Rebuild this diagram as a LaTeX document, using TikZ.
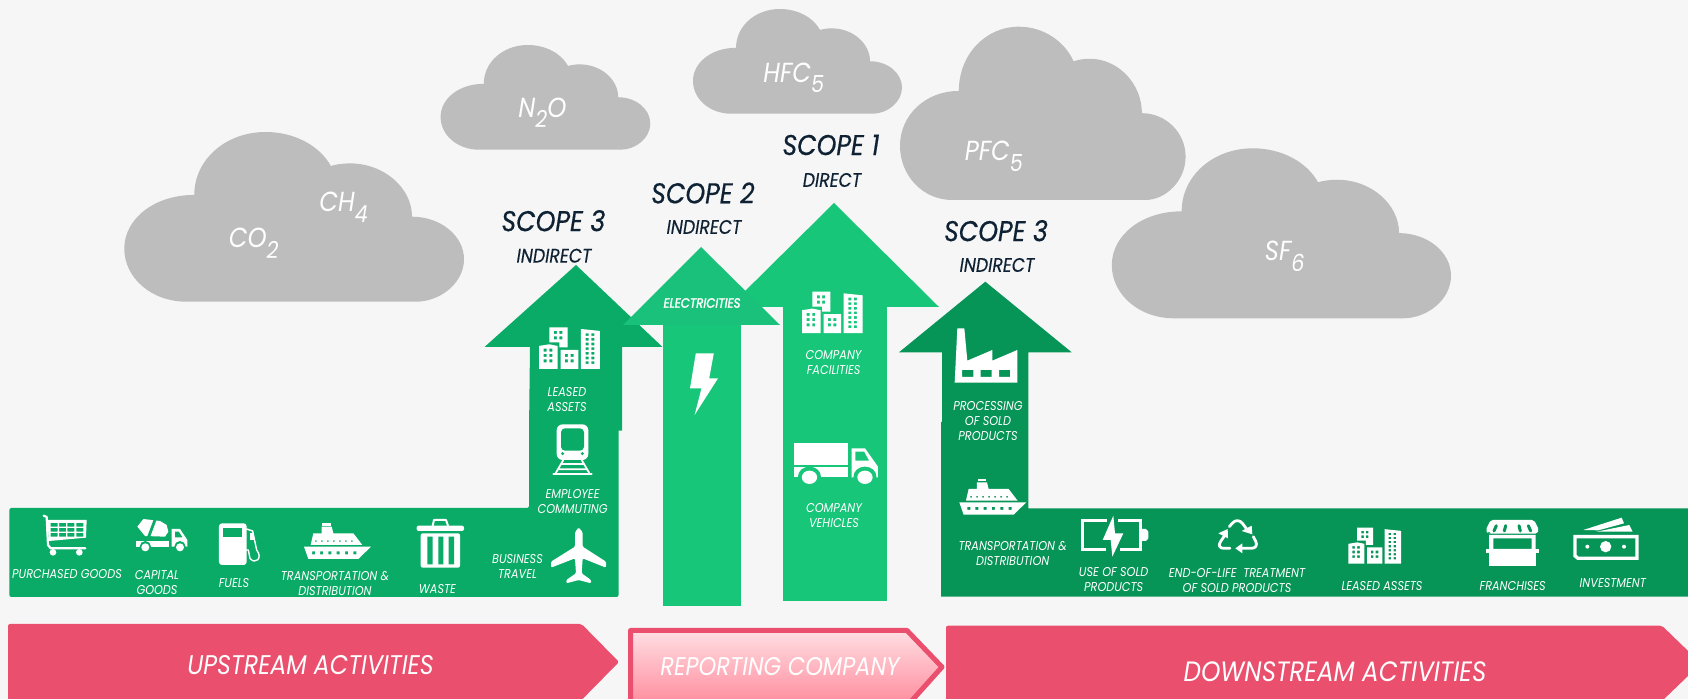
\documentclass[tikz,border=0pt]{standalone}
\usepackage{fontspec}
\usepackage{graphicx}
\setmainfont{Poppins}[FakeStretch=0.88]
\definecolor{bgc}{HTML}{F6F6F6}
\definecolor{cloudc}{HTML}{BDBDBD}
\definecolor{sthree}{HTML}{0AAB66}
\definecolor{sdown}{HTML}{069457}
\definecolor{sone}{HTML}{18C67A}
\definecolor{stwohead}{HTML}{1AC17A}
\definecolor{redc}{HTML}{EB4F6E}
\definecolor{navy}{HTML}{0F2233}
\definecolor{reptop}{HTML}{FFDFE3}
\definecolor{repbot}{HTML}{FF8A9C}
\tikzset{
  lbl/.style={text=white,inner sep=0pt,align=center,font=\fontsize{6.4}{7.5}\selectfont\itshape},
  heads/.style={text=navy,inner sep=0pt,align=center,font=\fontsize{14.3}{16}\selectfont\itshape\addfontfeature{FakeBold=0.5}},
  subh/.style={text=navy,inner sep=0pt,align=center,font=\fontsize{9.8}{11}\selectfont\itshape\addfontfeature{FakeBold=0.3}},
  bar/.style={text=white,inner sep=0pt,align=center,font=\fontsize{13.5}{15}\selectfont\itshape},
  gas/.style={text=white,inner sep=0pt,anchor=base west,font=\fontsize{13.8}{16}\selectfont\itshape},
  zu/.style={scale=1/3},
  icon/.style={fill=white,even odd rule,draw=none},
  stroke/.style={draw=white,fill=none,line cap=round,line join=round}
}
\newcommand\sbsc[1]{\raisebox{-0.7ex}{\scalebox{.85}{#1}}}
\newcommand\cloudshape[4]{\fill[cloudc,shift={(#1,#2)},xscale=#3-#1,yscale=#4-#2]
 (.183,1) .. controls (.08,1) and (0,.86) .. (0,.687)
 .. controls (0,.51) and (.09,.37) .. (.206,.371)
 .. controls (.206,.16) and (.30,0) .. (.416,0)
 .. controls (.50,0) and (.575,.08) .. (.608,.2)
 .. controls (.625,.19) and (.645,.185) .. (.664,.185)
 .. controls (.765,.185) and (.847,.33) .. (.847,.499)
 .. controls (.93,.499) and (1,.61) .. (1,.75)
 .. controls (1,.89) and (.93,1) .. (.859,1) -- cycle;}
% building: bbox top-left at (#1,#2), scale #3
\newcommand\bldg[3]{\begin{scope}[shift={(#1,#2)},scale=#3,shift={(-27,-52)}]
 \fill[icon] (58,52) -- (113,52) -- (113,112) -- (88,112) -- (88,97) -- (58,97) -- cycle
   foreach \x in {72,88} { foreach \y in {63,79} {(\x,\y) rectangle ++(9,9)} };
 \fill[icon] (27,177) -- (27,108) -- (58,103) -- (83,108) -- (83,177) -- (58,177) -- (58,177) -- cycle
   foreach \x in {41,58} { foreach \y in {116,132,148} {(\x,\y) rectangle ++(9,9)} };
 \fill[icon] (92,177) -- (92,120) -- (145,120) -- (145,177) -- cycle
   foreach \x in {105,122} { foreach \y in {132,148} {(\x,\y) rectangle ++(9,9)} };
 \fill[icon] (153,177) -- (153,57) -- (210,63) -- (210,177) -- cycle
   foreach \x in {167,184} { foreach \y in {70,84,98,112,126,140,154} {(\x,\y) rectangle ++(9,8)} };
\end{scope}}
% ship: bbox top-left at (#1,#2)
\newcommand\shipicon[2]{\begin{scope}[shift={(#1,#2)},zu,shift={(-42,-55)}]
 \fill[icon] (42,125) -- (243,125) -- (205,162) -- (55,162) -- cycle
   foreach \x in {66,90,115,140,165,190} {(\x,139) rectangle ++(9,9)};
 \fill[icon] (62,120) -- (70,85) -- (95,85) -- (95,65) -- (125,65) -- (130,85) -- (190,85) -- (217,120) -- cycle
   foreach \x in {75,93,111,129,147,165,183} {(\x,106) rectangle ++(5,5)};
 \fill[white] (97,55) rectangle (122,62);
\end{scope}}
\begin{document}
\begin{tikzpicture}[x=0.5pt,y=-0.5pt]
\useasboundingbox (0,0) rectangle (1688,699);
\clip (0,0) rectangle (1688,699);
\fill[bgc] (0,0) rectangle (1688,699);
% clouds
\cloudshape{124.3}{132}{464}{301.7}
\cloudshape{440.6}{45}{650.3}{149.7}
\cloudshape{693}{9}{902}{113.7}
\cloudshape{900}{26.7}{1185.6}{200}
\cloudshape{1111.8}{148.3}{1451}{318.3}
\node[gas] (co2) at (228.4,248) {CO\sbsc{2}};
\node[gas] (ch4) at (319,211.7) {CH\sbsc{4}};
\node[gas] (n2o) at (518,117.3) {N\sbsc{2}O};
\node[gas] (hfc) at (763,82.3) {HFC\sbsc{5}};
\node[gas] (pfc) at (964.5,160.7) {PFC\sbsc{5}};
\node[gas] (sf6) at (1264.5,260.7) {SF\sbsc{6}};
% scope 3 left arrow and upstream band
\fill[sthree] (576,265) -- (662.5,347) -- (622,347) -- (622,430.7) -- (529,430.7) -- (530,347) -- (484.5,347) -- cycle;
\fill[sthree,rounded corners=1pt] (529,420) -- (618.5,420) -- (618.5,597) -- (9.4,597) -- (9.4,508) -- (529,508) -- cycle;
% scope 1 arrow
\fill[sone] (834,203) -- (939,307) -- (886.8,307) -- (886.8,601) -- (783,601) -- (783,307) -- (729,307) -- cycle;
% scope 2 arrow
\fill[sone] (662.6,320) rectangle (740.6,606);
\fill[stwohead] (701,247) -- (780,325) -- (623,325) -- cycle;
% scope 3 right arrow and downstream band
\fill[sdown] (985.3,281.7) -- (1071.7,352.3) -- (1028.3,352.3) -- (1028.3,508.3) -- (1688,508.3) -- (1688,596.7) -- (941,596.7) -- (941,422) -- (942,422) -- (942,352.3) -- (899,352.3) -- cycle;
% red arrows
\fill[redc,rounded corners=1pt] (8,624) -- (581.6,624) -- (619,662) -- (581.6,700) -- (8,700) -- cycle;
\shade[top color=reptop,bottom color=repbot,draw=redc,line width=2.5pt,line join=round] (630.5,630.5) -- (907,630.5) -- (942,667) -- (907,706) -- (630.5,706) -- cycle;
\fill[redc,rounded corners=1pt] (946,625.7) -- (1662,625.7) -- (1701,663.5) -- (1662,701) -- (946,701) -- cycle;
% scope titles
\node[heads] (t3l) at (553.4,220.7) {SCOPE 3};
\node[subh] (i3l) at (554,255.7) {INDIRECT};
\node[heads] (t2) at (703,193) {SCOPE 2};
\node[subh] (i2) at (704,227) {INDIRECT};
\node[heads] (t1) at (831,145) {SCOPE 1};
\node[subh] (i1) at (832,180) {DIRECT};
\node[heads] (t3r) at (996,230.7) {SCOPE 3};
\node[subh] (i3r) at (997,265) {INDIRECT};
% bar labels
\node[bar] (up) at (310.5,665) {UPSTREAM ACTIVITIES};
\node[bar,font=\fontsize{12.8}{15}\selectfont\itshape] (rep) at (780,667) {REPORTING COMPANY};
\node[bar,font=\fontsize{14}{15}\selectfont\itshape] (down) at (1335,671.7) {DOWNSTREAM ACTIVITIES};
% small labels
\node[lbl] (lg) at (67,574) {PURCHASED GOODS};
\node[lbl] (lc) at (157,583) {CAPITAL\\GOODS};
\node[lbl] (lf) at (234,583) {FUELS};
\node[lbl] (lt) at (335,583) {TRANSPORTATION \&\\DISTRIBUTION};
\node[lbl] (lw) at (437.5,589) {WASTE};
\node[lbl] (lb) at (517.5,566.5) {BUSINESS\\TRAVEL};
\node[lbl] (le) at (572.6,502) {EMPLOYEE\\COMMUTING};
\node[lbl] (ll) at (567,400) {LEASED\\ASSETS};
\node[lbl,font=\fontsize{6.7}{7.5}\selectfont\itshape\addfontfeature{FakeBold=2}] (lel) at (702,303) {ELECTRICITIES};
\node[lbl] (lcf) at (833.6,362.7) {COMPANY\\FACILITIES};
\node[lbl] (lcv) at (834,516) {COMPANY\\VEHICLES};
\node[lbl] (lp) at (988,420.7) {PROCESSING\\OF SOLD\\PRODUCTS};
\node[lbl] (lt2) at (1012.7,553) {TRANSPORTATION \&\\DISTRIBUTION};
\node[lbl] (lu) at (1113.7,580) {USE OF SOLD\\PRODUCTS};
\node[lbl] (leol) at (1237,580.7) {END-OF-LIFE\ \ TREATMENT\\OF SOLD PRODUCTS};
\node[lbl] (lla) at (1382,586) {LEASED ASSETS};
\node[lbl] (lfr) at (1512.7,586) {FRANCHISES};
\node[lbl] (li) at (1612.8,583) {INVESTMENT};
% buildings
\bldg{539}{327.3}{.333}
\bldg{802}{291.7}{.331}
\bldg{1348.3}{527.7}{.288}
% ships
\shipicon{304}{523.3}
\shipicon{959.3}{479}
% cart, cement truck, pump
\begin{scope}[shift={(30,505)},zu]
 \fill[icon] (52,45) -- (170,45) -- (168,98) -- (57,108) -- cycle
   foreach \x in {62,87,112,139} { foreach \y in {54,69,84} {(\x,\y) rectangle ++(21,11)} };
 \draw[stroke,line width=1.1pt] (41,32) -- (50,36) -- (54,120) -- (62,130) -- (166,130);
 \fill[white] (69,142) circle (10) (148,142) circle (10);
 % cement truck
 \fill[white] (318,108) rectangle (418,125);
 \fill[sthree] (346,125) circle (17);
 \fill[white] (346,127) circle (12);
 \fill[icon] (425,125) -- (425,72) -- (450,72) -- (472,105) -- (472,125) -- cycle
   (435,80) -- (447,80) -- (458,97) -- (435,97) -- cycle;
 \fill[sthree] (450,125) circle (17);
 \fill[white] (450,127) circle (12);
 \fill[white] (322,65) -- (340,42) -- (390,48) -- (410,60) -- (415,80) -- (405,95) -- (345,93) -- cycle;
 \draw[sthree,line width=1.4pt] (375,45) -- (355,98);
 % pump
 \fill[icon,rounded corners=1.5pt] (567,55) rectangle (650,180);
 \fill[sthree] (580,70) rectangle (637,95);
 \fill[white] (660,85) rectangle (672,105);
 \draw[stroke,line width=.7pt] (650,72) -- (668,78) -- (680,135) .. controls (700,160) and (675,180) .. (660,160) -- (655,135) -- (648,135);
\end{scope}
% trash, plane
\begin{scope}[shift={(290,505)},zu]
 \fill[white,rounded corners=1pt] (380,62) rectangle (522,78);
 \draw[stroke,line width=1pt] (428,62) -- (432,45) -- (468,45) -- (474,62);
 \fill[icon,rounded corners=1pt] (392,85) rectangle (510,188);
 \fill[sthree] (412,95) rectangle (428,178) (445,95) rectangle (460,178) (476,95) rectangle (492,178);
 \fill[white,rounded corners=.6pt] (866,67) -- (855,82) -- (855,125) -- (783,170) -- (783,188) -- (855,160) -- (858,205) -- (829,225) -- (829,235) -- (866,225) -- (903,235) -- (903,225) -- (875,205) -- (878,160) -- (948,188) -- (948,170) -- (878,125) -- (878,82) -- cycle;
\end{scope}
% train
\begin{scope}[shift={(530,310)},zu]
 \draw[stroke,line width=.9pt] (100,450) -- (75,493) (155,450) -- (180,493) (92,462) -- (163,462) (85,478) -- (170,478);
 \draw[stroke,line width=.9pt] (70,493) -- (185,493);
 \fill[white,rounded corners=3pt] (80,343) rectangle (175,450);
 \fill[sthree,rounded corners=2pt] (93,355) rectangle (162,422);
 \fill[sthree] (98,431) circle (5) (157,431) circle (5);
\end{scope}
% lightning
\fill[white] (695.8,353.3) -- (713.8,353.3) -- (709.2,378.3) -- (718,378.3) -- (694.6,415) -- (701.5,388.3) -- (690,388.3) -- cycle;
% truck
\begin{scope}[shift={(470,200)},xscale=.3827,yscale=.3333]
 \fill[white] (847,728) rectangle (987,795);
 \fill[white] (847,800) rectangle (987,832);
 \fill[icon] (997,832) -- (997,745) -- (1032,745) -- (1066,800) -- (1066,832) -- cycle
    (1007,755) -- (1030,755) -- (1043,782) -- (1007,782) -- cycle;
 \fill[sone] (887,830) circle (30);
 \fill[white] (887,832) circle (20);
 \fill[sone] (1032,830) circle (30);
 \fill[white] (1032,832) circle (20);
\end{scope}
% factory
\begin{scope}[shift={(880,260)},zu]
 \fill[icon] (232,205) -- (253,205) -- (262,302) -- (337,270) -- (337,302) -- (412,270) -- (412,368) -- (224,368) -- cycle
   (246,330) rectangle (280,351) (302,330) rectangle (335,351) (357,330) rectangle (390,351);
\end{scope}
% battery, recycle
\begin{scope}[shift={(1070,505)},zu]
 \draw[stroke,line width=1.5pt,line cap=butt,line join=miter] (112,47) -- (38,47) -- (38,133) -- (108,133);
 \draw[stroke,line width=1.5pt,line cap=butt,line join=miter] (145,47) -- (210,47) -- (210,133) -- (150,133);
 \fill[white] (215,72) -- (228,72) -- (235,80) -- (235,100) -- (228,108) -- (215,108) -- cycle;
 \fill[white] (130,32) -- (98,105) -- (122,105) -- (127,155) -- (160,85) -- (135,85) -- cycle;
 \draw[stroke,line width=1.4pt,rounded corners=4pt] (478,65) -- (503,36) -- (530,72);
 \fill[white] (515,78) -- (545,62) -- (547,88) -- cycle;
 \draw[stroke,line width=1.4pt,rounded corners=4pt] (465,90) -- (438,130) -- (480,130);
 \fill[white] (445,85) -- (473,72) -- (474,100) -- cycle;
 \draw[stroke,line width=1.4pt,rounded corners=4pt] (550,95) -- (568,130) -- (515,130);
 \fill[white] (496,130) -- (517,115) -- (517,145) -- cycle;
\end{scope}
% shop, money
\begin{scope}[shift={(1340,505)},zu]
 \fill[white,rounded corners=1pt] (452,45) -- (582,45) -- (597,75) -- (592,86) -- (442,86) -- (437,75) -- cycle;
 \draw[sdown,line width=1.5pt,line cap=round] (469,62) -- (462,78) (497,62) -- (493,78) (537,62) -- (541,78) (565,62) -- (572,78);
 \fill[sdown] (442,86) -- (447,80) -- (452,86) -- cycle;
 \fill[icon] (447,90) rectangle (587,132) (460,100) rectangle (575,132);
 \fill[white] (438,132) rectangle (597,144);
 \fill[white] (447,144) rectangle (587,184);
 \fill[icon] (700,90) -- (896,90) -- (896,165) -- (712,165) -- (700,155) -- cycle
   (710,100) -- (886,100) -- (886,155) -- (716,155) -- (710,150) -- cycle;
 \fill[white] (797,125) circle (17) (742,125) circle (6) (852,125) circle (6);
 \fill[white] (730,75) -- (845,38) -- (852,55) -- (775,76) -- cycle;
 \fill[white] (770,80) -- (868,60) -- (878,80) -- cycle;
\end{scope}
\end{tikzpicture}
\end{document}
